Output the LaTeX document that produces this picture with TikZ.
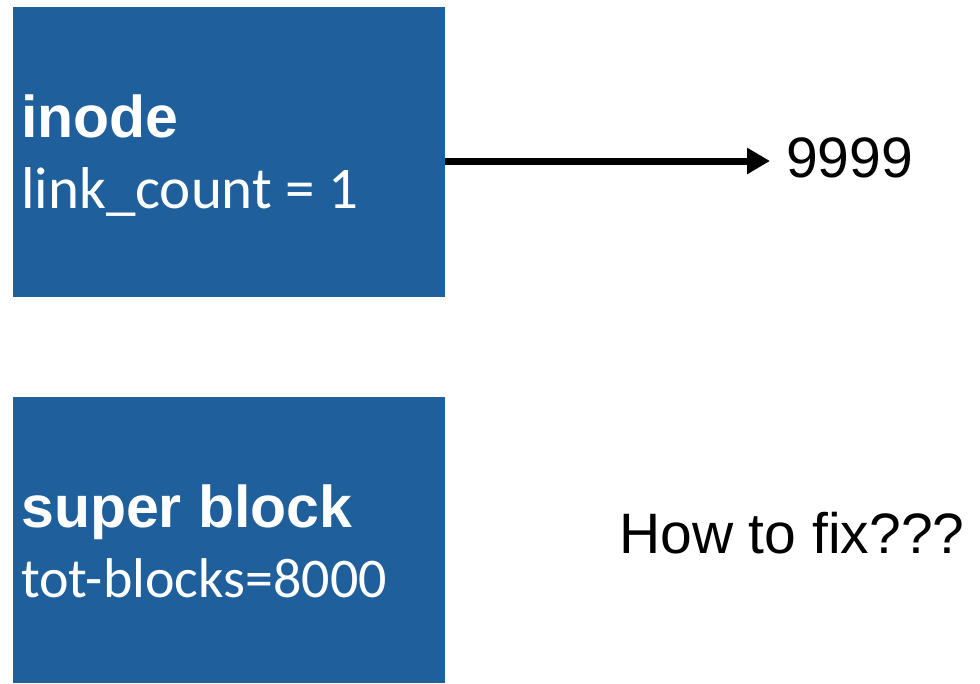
\documentclass[tikz,border=0pt]{standalone}
\usepackage{fontspec}
\setmainfont{Liberation Sans}
\newfontfamily\bodyfont{Carlito}
\usetikzlibrary{arrows.meta}
\definecolor{boxblue}{HTML}{1F5F9B}
\tikzset{
  blockbox/.style={fill=boxblue, draw=none, inner sep=0pt},
  boxtitle/.style={anchor=base west, inner sep=0pt, text=white, font=\fontsize{59}{59}\selectfont\bfseries},
  boxfield/.style={anchor=base west, inner sep=0pt, text=white, font=\fontsize{59}{59}\selectfont\bodyfont},
  plaintext/.style={anchor=base west, inner sep=0pt, text=black, font=\fontsize{57}{57}\selectfont},
  pointer/.style={line width=7pt, -{Triangle[length=23pt,width=25pt]}}
}
\begin{document}
\begin{tikzpicture}[x=1pt,y=1pt]
  \useasboundingbox (0,0) rectangle (980,-683);
  % the two on-disk structures
  \node[blockbox, minimum width=432pt, minimum height=290pt, anchor=north west] (inode) at (13,-7) {};
  \node[blockbox, minimum width=432pt, minimum height=286pt, anchor=north west] (sb) at (13,-397) {};
  % labels inside the boxes
  \node[boxtitle] (inodetitle) at (21,-137) {inode};
  \node[boxfield] (linkcount) at (21,-208) {link\_count = 1};
  \node[boxtitle] (sbtitle) at (21,-527) {super block};
  \node[boxfield, font=\fontsize{56}{56}\selectfont\bodyfont] (totblocks) at (21,-597) {tot-blocks=8000};
  % block number the inode points at
  \node[plaintext] (blocknum) at (786,-177) {9999};
  \coordinate (tip) at (770,-161);
  \draw[pointer] (inode.east |- tip) -- (tip);
  % open question
  \node[plaintext] (question) at (619,-553) {How to fix???};
\end{tikzpicture}
\end{document}
